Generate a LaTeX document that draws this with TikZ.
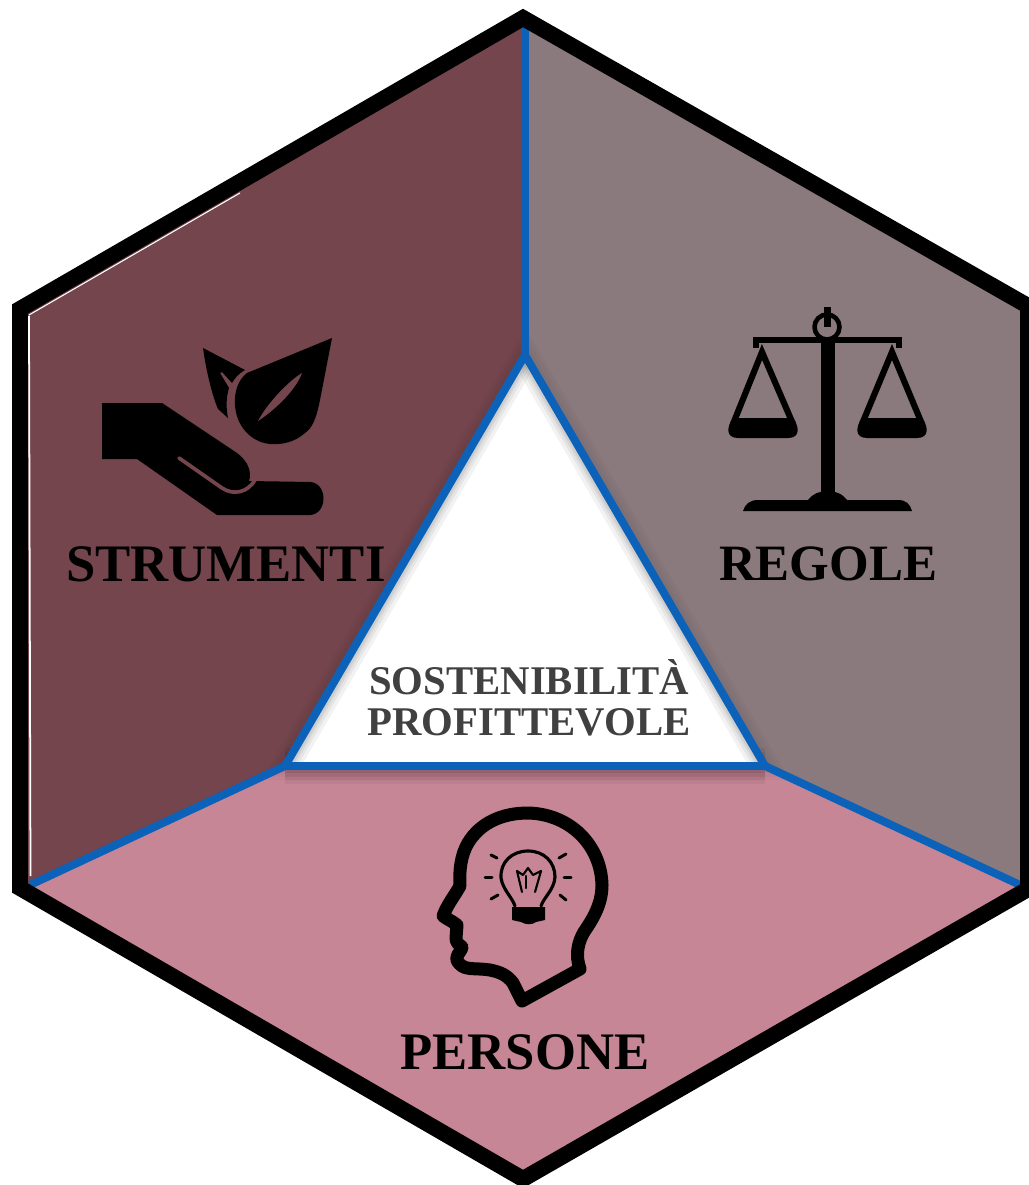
\documentclass[tikz,border=0pt]{standalone}
\usepackage{fontspec}
\setmainfont{Liberation Serif}
\definecolor{cL}{HTML}{74454C}
\definecolor{cR}{HTML}{8A797D}
\definecolor{cB}{HTML}{C78695}
\definecolor{cBlue}{HTML}{0B62B8}
\definecolor{cTxt}{HTML}{404040}
\tikzset{
 divider/.style={draw=cBlue,line width=4.5pt,line join=miter},
 frame/.style={draw=black,line width=9.1pt,line join=miter},
 lbl/.style={font=\bfseries\fontsize{30}{32}\selectfont,text=black,inner sep=0pt,anchor=center},
 centre/.style={font=\bfseries\fontsize{23.2}{23.3}\selectfont,text=cTxt,inner sep=0pt,align=center,anchor=center},
 ic/.style={fill=black,draw=none},
 il/.style={draw=black,fill=none,line cap=round,line join=round},
 shade/.style={draw=black,draw opacity=0.05,line join=miter},
 shadelight/.style={draw=black,draw opacity=0.025,line join=miter},
}
\begin{document}
\begin{tikzpicture}[x=0.02cm,y=-0.02cm]
\useasboundingbox (0,0) rectangle (1028,1185);
\fill[white] (0,0) rectangle (1028,1185);
\coordinate (T) at (523,18);
\coordinate (TR) at (1028,306);
\coordinate (BR) at (1028,889);
\coordinate (B) at (523,1179);
\coordinate (BL) at (20,888);
\coordinate (TL) at (20,309);
\coordinate (A) at (525,355);
\coordinate (C) at (765,766);
\coordinate (D) at (285,766);
\coordinate (LL) at (30,885);
\coordinate (RR) at (1020,885);
\coordinate (TT) at (525,28);
% panels
\fill[cL] (T) -- (TL) -- (BL) -- (LL) -- (D) -- (A) -- (TT) -- cycle;
\fill[cR] (T) -- (TR) -- (BR) -- (RR) -- (C) -- (A) -- (TT) -- cycle;
\fill[cB] (LL) -- (D) -- (C) -- (RR) -- (BR) -- (B) -- (BL) -- cycle;
% soft shadow outside the triangle
\foreach \w in {16,12,8} {\draw[shadelight,line width=\w pt] (A) -- (C) -- (D) -- cycle;}
\foreach \w in {20,16,12,8} {\draw[shade,line width=\w pt] (C) -- (D);}
\fill[white] (A) -- (C) -- (D) -- cycle;
% soft shadow inside the triangle
\begin{scope}
\clip (A) -- (C) -- (D) -- cycle;
\foreach \w in {16,12,9,7} {\draw[shade,line width=\w pt] (A) -- (C);\draw[shade,line width=\w pt] (A) -- (D);}
\end{scope}
% dividers
\draw[divider] (TT) -- (A);
\draw[divider] (D) -- (LL);
\draw[divider] (C) -- (RR);
\draw[divider] (A) -- (C) -- (D) -- cycle;
% frame
\draw[frame] (T) -- (TR) -- (BR) -- (B) -- (BL) -- (TL) -- cycle;
\draw[white,line width=0.6pt] (29,315) -- (240,193);
\draw[white,line width=1pt] (29,316) -- (30.5,876);
% labels
\node[lbl] (strumenti) at (226,564) {STRUMENTI};
\node[lbl,font=\bfseries\fontsize{29}{32}\selectfont] (regole) at (828,564) {REGOLE};
\node[lbl] (persone) at (525,1052) {PERSONE};
\node[centre] (sost) at (529,698) {SOSTENIBILITÀ\\PROFITTEVOLE};
% hand
\fill[ic] (102,403) -- (162,403) -- (237,453) .. controls (248,461) and (252,472) .. (249,481) -- (310,482) .. controls (328,483) and (328,514) .. (310,515) -- (217,515) -- (137,459) -- (102,459) -- cycle;
\draw[cL,line width=2.1pt,line cap=round] (179,458) -- (222,488) .. controls (234,496) and (248,492) .. (255,480);
% large leaf
\fill[ic] (332,338) -- (320,400) .. controls (316,420) and (312,428) .. (305,433) .. controls (295,442) and (282,445) .. (270,444) .. controls (250,442) and (236,425) .. (235,405) .. controls (234,392) and (238,380) .. (247,373) -- cycle;
\fill[cL] (302,373) .. controls (290,380) and (268,402) .. (258,421) .. controls (272,412) and (295,392) .. cycle;
% small leaf
\fill[ic] (203,348) -- (245,370) .. controls (238,374) and (235,378) .. (232,383) -- (222,372) -- (220,373) -- (229,388) .. controls (226,398) and (226,408) .. (228,418) -- (218,409) .. controls (212,395) and (206,370) .. cycle;
% scales
\fill[ic] (753,337) rectangle (902,343);
\fill[ic] (753,337) rectangle (759,348);
\fill[ic] (896,337) rectangle (902,348);
\fill[ic] (821,340) rectangle (835,495);
\draw[il,line width=2.6pt] (827,327) circle (12.5);
\fill[ic] (823.5,307) rectangle (830.5,327);
\fill[ic] (733,418) -- (793,418) .. controls (799,426) and (801,438) .. (788,438) -- (738,438) .. controls (725,438) and (727,426) .. (733,418) -- cycle;
\fill[ic] (862,418) -- (922,418) .. controls (928,426) and (930,438) .. (917,438) -- (867,438) .. controls (854,438) and (856,426) .. (862,418) -- cycle;
\draw[il,line width=3.5pt,line cap=butt,line join=miter] (733,424) -- (762,352) -- (793,424);
\draw[il,line width=3.5pt,line cap=butt,line join=miter] (862,424) -- (892,352) -- (922,424);
\fill[ic] (743,511) .. controls (745,504) and (750,500) .. (758,500) -- (808,500) .. controls (812,494) and (820,491) .. (827,491) .. controls (835,491) and (843,494) .. (847,500) -- (898,500) .. controls (906,500) and (910,504) .. (912,511) -- cycle;
% head
\draw[il,line width=7.4pt] (580,969) -- (522,1001) -- (513,983) .. controls (507,975) and (500,972) .. (490,970) .. controls (478,968) and (468,970) .. (462,966) .. controls (458,963) and (456,960) .. (457,957) .. controls (458,953) and (462,950) .. (462,947) .. controls (458,944) and (456,942) .. (456,938) -- (457,925) .. controls (452,921) and (447,919) .. (443,916) .. controls (447,905) and (455,895) .. (460,886) .. controls (459,870) and (461,855) .. (468,843) .. controls (480,823) and (502,813) .. (528,813) .. controls (570,814) and (601,845) .. (602,885) .. controls (602,905) and (592,920) .. (584,932) .. controls (578,942) and (575,955) .. (580,969);
% bulb
\draw[il,line width=1.8pt] (515,906) .. controls (512,897) and (503,890) .. (501,878) .. controls (500,862) and (512,851) .. (528,851) .. controls (544,851) and (555,862) .. (555,877) .. controls (554,890) and (544,897) .. (541,906);
\fill[ic] (512,907) -- (545,907) -- (545,920) -- (536,922) .. controls (532,925) and (526,925) .. (521,922) -- (512,920) -- cycle;
\draw[il,line width=1.2pt] (522,892) -- (517,871) -- (523,875) -- (528,868) -- (533,875) -- (541,871) -- (535,892);
\draw[il,line width=1.2pt] (526,876) -- (526,888);
\foreach \a/\b/\c/\d in {491/855/497/858,485/877/492/877,491/899/498/895,566/854/559/858,564/877/571/877,566/900/560/895}
 {\draw[il,line width=1.7pt] (\a,\b) -- (\c,\d);}
\end{tikzpicture}
\end{document}
